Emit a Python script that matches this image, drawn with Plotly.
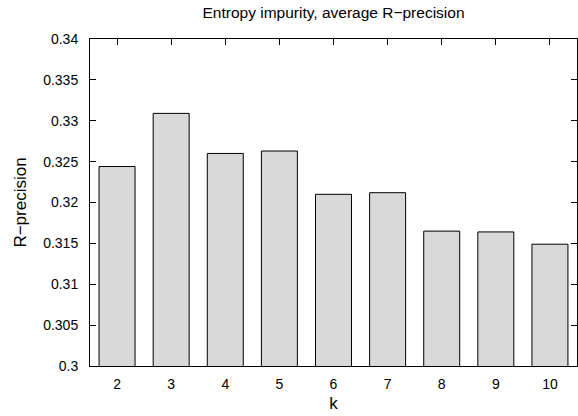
import plotly.graph_objects as go

k_values = ["2", "3", "4", "5", "6", "7", "8", "9", "10"]
r_precision = [0.3244, 0.3309, 0.3260, 0.3263, 0.3210, 0.3212, 0.3165, 0.3164, 0.3149]
y_ticks = [0.3, 0.305, 0.31, 0.315, 0.32, 0.325, 0.33, 0.335, 0.34]
y_tick_text = ["0.3", "0.305", "0.31", "0.315", "0.32", "0.325", "0.33", "0.335", "0.34"]

font_family = "Liberation Sans, Arial, sans-serif"

fig = go.Figure(
    go.Bar(
        x=k_values,
        y=r_precision,
        marker=dict(color="rgb(217,217,217)", line=dict(color="black", width=1)),
    )
)

fig.update_layout(
    width=578,
    height=416,
    margin=dict(l=90, r=1, t=39, b=50),
    paper_bgcolor="white",
    plot_bgcolor="white",
    bargap=0.335,
    showlegend=False,
    font=dict(family=font_family, size=14, color="black"),
    title=dict(
        text="Entropy impurity, average R\u2212precision",
        x=(90 + 577) / 2 / 578,
        xanchor="center",
        y=1 - 13 / 416,
        yanchor="middle",
        font=dict(size=15.5, color="black"),
    ),
)

fig.update_xaxes(
    type="category",
    range=[-0.5, 8.5],
    showline=True,
    linecolor="black",
    linewidth=1,
    mirror="ticks",
    ticks="inside",
    ticklen=6,
    tickcolor="black",
    showgrid=False,
    layer="below traces",
    title=dict(text="k", standoff=6),
    ticklabelstandoff=5,
)

fig.update_yaxes(
    range=[0.3, 0.34],
    tickvals=y_ticks,
    ticktext=y_tick_text,
    showline=True,
    linecolor="black",
    linewidth=1,
    mirror="ticks",
    ticks="inside",
    ticklen=6,
    tickcolor="black",
    showgrid=False,
    zeroline=False,
    title=dict(text="R\u2212precision", standoff=12),
    ticklabelstandoff=8,
)

fig.write_html(
    "out.html",
    config={"displayModeBar": False},
    post_script="document.body.style.margin='0';document.body.style.padding='0';",
)
